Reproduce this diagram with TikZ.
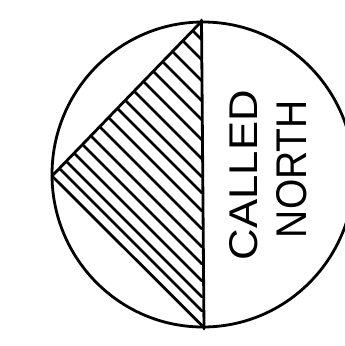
\documentclass[tikz,border=0pt]{standalone}
\usepackage{fontspec}
\setmainfont{Liberation Sans}
\begin{document}
\begin{tikzpicture}[x=1pt,y=-1pt,line cap=round,line join=round]
\tikzset{
  outline/.style={line width=2.8pt,draw=black},
  hatchline/.style={line width=2.5pt,draw=black},
  handtext/.style={rotate=90,inner sep=0pt}
}
\useasboundingbox (0,0) rectangle (345,346);
\clip (0,0) rectangle (345,346);
\coordinate (T) at (201,22);
\coordinate (L) at (52,176);
\coordinate (B) at (203.5,327);
\coordinate (Vt) at (201.5,20);
\coordinate (Vb) at (204,329);
% circle
\draw[outline] (203,174.5) ellipse [x radius=151, y radius=152.5];
% hatching
\begin{scope}
  \clip (T) -- (L) -- (B) -- cycle;
  \foreach \h in {40,60,81,101,120,140,159,177,193,211,229,247,264,281,297,311} {
    \draw[hatchline] (202,\h) -- ++(-200,-200);
  }
\end{scope}
% triangle edges and vertical
\draw[outline] (T) -- (L) -- (B);
\draw[outline] (Vt) -- (Vb);
% text
\node[handtext] (called) at (244,175) {\resizebox{170pt}{28pt}{CALLED}};
\node[handtext] (north) at (292,169) {\resizebox{138pt}{30pt}{NORTH}};
\end{tikzpicture}
\end{document}
